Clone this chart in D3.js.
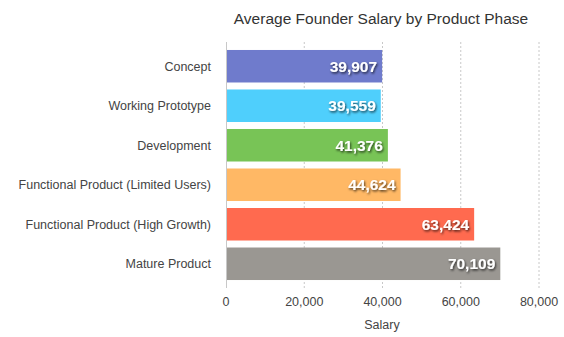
<!DOCTYPE html>
<html><head><meta charset="utf-8">
<script src="https://cdn.jsdelivr.net/npm/d3@7"></script>
<style>body{margin:0;background:#fff;}svg{display:block;}</style>
</head><body>
<svg id="c" width="564" height="337"></svg>
<script>
const categories = ["Concept","Working Prototype","Development","Functional Product (Limited Users)","Functional Product (High Growth)","Mature Product"];
const salaries = [39907, 39559, 41376, 44624, 63424, 70109];
const colors = ["#6f7bcc","#4fcffc","#78c456","#ffb865","#ff6a4f","#9a9792"];
const xTicks = [0, 20000, 40000, 60000, 80000];
const title = "Average Founder Salary by Product Phase";
const xTitle = "Salary";

const svg = d3.select("#c");
const font = "'Helvetica Neue', Helvetica, 'Liberation Sans', Arial, sans-serif";
const x = d3.scaleLinear().domain([0, 80000]).range([226, 539]);
const y = d3.scaleBand().domain(categories).range([46.5, 283.5]).paddingInner(0.177).paddingOuter(0.088);

const defs = svg.append("defs");
const f = defs.append("filter").attr("id","sh").attr("x","-20%").attr("y","-40%").attr("width","140%").attr("height","180%");
f.append("feDropShadow").attr("dx",1).attr("dy",1.5).attr("stdDeviation",1).attr("flood-color","#000").attr("flood-opacity",0.7);

// gridlines
svg.append("g").selectAll("line").data(xTicks.slice(1)).join("line")
  .attr("x1", d=>x(d)).attr("x2", d=>x(d)).attr("y1", 42).attr("y2", 288)
  .attr("stroke","#c8c8c8").attr("stroke-dasharray","2,2").attr("stroke-width",1);

// bars
svg.append("g").selectAll("rect").data(categories).join("rect")
  .attr("x", x(0)).attr("y", d=>y(d)).attr("width", (d,i)=>x(salaries[i])-x(0))
  .attr("height", y.bandwidth()).attr("fill",(d,i)=>colors[i]);

// axis line at 0
svg.append("line").attr("x1",x(0)+0.5).attr("x2",x(0)+0.5).attr("y1",42).attr("y2",288)
  .attr("stroke","#c8c8c8").attr("stroke-width",1);

// value labels
svg.append("g").selectAll("text").data(categories).join("text")
  .attr("x",(d,i)=>x(salaries[i])-5).attr("y",d=>y(d)+y.bandwidth()/2+5.5)
  .attr("text-anchor","end").attr("fill","#fff").attr("font-family",font)
  .attr("font-size",15.5).attr("font-weight","600").attr("filter","url(#sh)")
  .text((d,i)=>d3.format(",")(salaries[i]));

// category labels
svg.append("g").selectAll("text").data(categories).join("text")
  .attr("x",211).attr("y",d=>y(d)+y.bandwidth()/2+4.5)
  .attr("text-anchor","end").attr("fill","#444").attr("font-family",font).attr("font-size",12.5)
  .text(d=>d);

// x axis tick labels
svg.append("g").selectAll("text").data(xTicks).join("text")
  .attr("x",d=>x(d)).attr("y",306).attr("text-anchor","middle")
  .attr("fill","#444").attr("font-family",font).attr("font-size",12.5)
  .text(d=>d3.format(",")(d));

svg.append("text").attr("x",382).attr("y",329).attr("text-anchor","middle")
  .attr("fill","#444").attr("font-family",font).attr("font-size",12.5).text(xTitle);

svg.append("text").attr("x",381).attr("y",23.5).attr("text-anchor","middle")
  .attr("fill","#333").attr("font-family",font).attr("font-size",15.5).text(title);
</script>
</body></html>
